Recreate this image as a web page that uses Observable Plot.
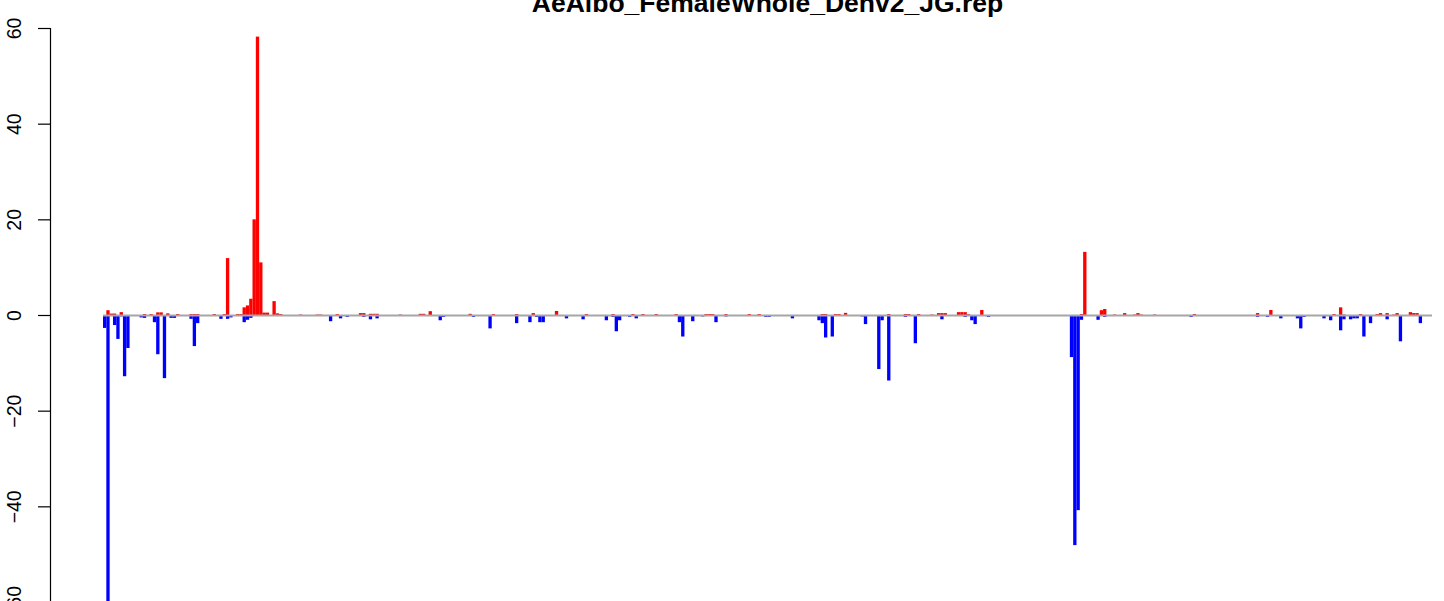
<!DOCTYPE html>
<html><head><meta charset="utf-8">
<script src="https://cdn.jsdelivr.net/npm/d3@7"></script>
<script src="https://cdn.jsdelivr.net/npm/@observablehq/plot@0.6"></script>
<style>
html,body{margin:0;padding:0;background:#fff;overflow:hidden;}
#wrap{position:relative;width:1444px;height:601px;}
#title{position:absolute;left:267.5px;width:1000px;text-align:center;top:-12px;font:bold 26.5px "Liberation Sans",Arial,sans-serif;color:#000;z-index:2;}
</style></head><body><div id="wrap"><div id="chart"></div><div id="title"></div></div>
<script>
const title = "AeAlbo_FemaleWhole_Denv2_JG.rep";
const nBins = 400;
const yTicks = [-60, -40, -20, 0, 20, 40, 60];
// [bin index, value]
const upEntries = [[1,1.0],[2,0.3],[3,0.3],[5,0.6],[12,0.2],[14,0.2],[16,0.55],[17,0.55],[19,0.35],[22,0.2],[26,0.2],[27,0.2],[28,0.2],[33,0.2],[36,0.2],[37,11.9],[40,0.2],[41,0.2],[42,1.6],[43,2.0],[44,3.4],[45,20],[46,58.2],[47,11],[48,0.5],[49,0.5],[51,2.9],[52,0.35],[53,0.2],[59,0.1],[64,0.1],[65,0.1],[70,0.2],[77,0.4],[78,0.4],[80,0.25],[81,0.25],[82,0.25],[89,0.1],[95,0.25],[96,0.25],[98,0.8],[110,0.25],[117,0.2],[124,0.2],[129,0.4],[136,0.85],[145,0.2],[153,0.2],[159,0.2],[162,0.2],[166,0.2],[172,0.2],[181,0.2],[182,0.2],[183,0.2],[187,0.2],[194,0.2],[197,0.2],[216,0.2],[217,0.2],[220,0.2],[221,0.2],[223,0.45],[236,0.2],[241,0.2],[242,0.2],[245,0.2],[249,0.1],[251,0.4],[252,0.4],[253,0.4],[257,0.6],[258,0.6],[259,0.6],[260,0.15],[264,1.05],[294,0.2],[295,13.2],[300,1.0],[301,1.25],[304,0.1],[307,0.4],[310,0.1],[311,0.4],[312,0.1],[316,0.1],[328,0.2],[347,0.4],[351,1.05],[370,0.2],[372,1.6],[373,0.1],[378,0.2],[383,0.2],[384,0.4],[386,0.4],[388,0.1],[389,0.4],[393,0.6],[394,0.4],[395,0.4]];
const downEntries = [[0,-2.7],[1,-62],[2,-0.2],[3,-2.1],[4,-5.0],[5,-0.3],[6,-12.8],[7,-6.9],[8,-0.2],[11,-0.5],[12,-0.6],[15,-1.5],[16,-8.2],[18,-13.2],[20,-0.6],[21,-0.6],[26,-0.8],[27,-6.5],[28,-1.7],[35,-0.8],[37,-0.8],[38,-0.5],[42,-1.5],[43,-1.0],[44,-0.6],[68,-1.3],[71,-0.7],[73,-0.4],[75,-0.1],[78,-0.4],[80,-0.9],[82,-0.7],[101,-1.1],[102,-0.4],[111,-0.4],[116,-2.8],[124,-1.7],[128,-1.5],[130,-0.4],[131,-1.5],[132,-1.5],[139,-0.7],[144,-0.9],[151,-1.1],[153,-0.4],[154,-3.4],[155,-1.1],[158,-0.4],[160,-0.7],[173,-1.5],[174,-4.5],[177,-1.3],[180,-0.3],[184,-1.5],[187,-0.3],[199,-0.4],[200,-0.4],[207,-0.7],[215,-1.1],[216,-1.7],[217,-4.7],[219,-4.5],[228,-0.3],[229,-1.9],[233,-11.3],[234,-1.1],[236,-13.7],[241,-0.4],[244,-5.9],[252,-0.9],[259,-0.4],[261,-1.1],[262,-1.9],[266,-0.4],[291,-8.8],[292,-48.1],[293,-40.8],[294,-1.0],[297,-0.1],[299,-1.0],[301,-0.4],[308,-0.1],[314,-0.1],[323,-0.1],[327,-0.4],[333,-0.1],[334,-0.1],[339,-0.1],[342,-0.1],[343,-0.1],[347,-0.4],[349,-0.1],[350,-0.4],[354,-0.7],[355,-0.2],[356,-0.2],[358,-0.1],[359,-0.7],[360,-2.8],[361,-0.4],[365,-0.1],[367,-0.7],[369,-1.1],[372,-3.2],[373,-0.9],[375,-0.9],[376,-0.7],[377,-0.7],[378,-0.1],[379,-4.5],[380,-0.2],[381,-1.7],[382,-0.1],[385,-0.1],[386,-0.9],[389,-0.1],[390,-5.5],[391,-0.1],[395,-0.1],[396,-1.7],[397,-0.1],[398,-0.1]];

document.getElementById("title").textContent = title;
const bars = [
  ...upEntries.map(([i, v]) => ({i, v, c: "up"})),
  ...downEntries.map(([i, v]) => ({i, v, c: "down"}))
];
const fmt = d => d < 0 ? "\u2212" + (-d) : String(d);
const font = "'Liberation Sans', Arial, Helvetica, sans-serif";
const chart = Plot.plot({
  width: 1444, height: 601,
  marginLeft: 50, marginRight: 0, marginTop: 28, marginBottom: 0,
  style: {fontFamily: font, background: "#fff", overflow: "hidden"},
  x: {type: "linear", domain: [0, nBins], range: [103, 1432], axis: null},
  y: {domain: [-60, 60], range: [602, 28], axis: null},
  marks: [
    Plot.rectY(bars, {x1: d => d.i, x2: d => d.i + 1, y1: 0, y2: d => d.v, fill: d => d.c === "up" ? "#ff0000" : "#0000ff", inset: 0, clip: true}),
    Plot.ruleY([0], {x1: 0, x2: nBins, stroke: "#a6a6a6", strokeWidth: 2}),
    Plot.frame({anchor: "left", stroke: "#000", strokeWidth: 1.2}),
    Plot.axisY({ticks: yTicks, tickSize: 12, tickFormat: () => "", stroke: "#000", strokeWidth: 1.2}),
    Plot.text(yTicks, {y: d => d, text: fmt, frameAnchor: "left", rotate: -90, dx: -35.5, textAnchor: "middle", lineAnchor: "middle", fontSize: 19.5, fill: "#000"})
  ]
});
document.getElementById("chart").appendChild(chart);
</script></body></html>
